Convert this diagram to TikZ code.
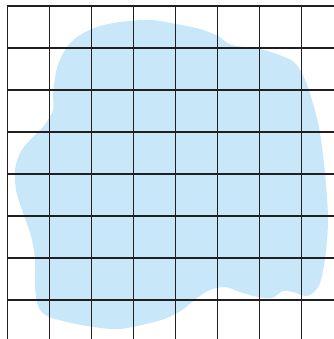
\documentclass[tikz,border=0pt]{standalone}
\usepackage{tikz}

\definecolor{blobblue}{RGB}{200,232,249}
\definecolor{gridink}{RGB}{35,31,32}

\begin{document}
\begin{tikzpicture}[
    x=0.03cm, y=-0.03cm,
    blob/.style={
        fill=blobblue,
        draw=none
    },
    gridline/.style={
        draw=gridink,
        line width=1.4pt,
        line cap=rect
    }
]

\useasboundingbox (0,0) rectangle (333,339);

% region
\fill[blob] plot[smooth cycle, tension=0.55] coordinates {
    (120,22) (150,20) (176,24) (200,29) (218,36) (232,45)
    (260,49) (282,56) (296,64) (306,82) (314,107) (320,133)
    (325,173) (328,220) (325,259) (320,283) (313,293) (305,296)
    (293,292) (283,291) (272,298) (258,297) (240,292) (225,287)
    (210,290) (197,298) (182,310) (167,318) (150,323) (120,329)
    (93,327) (67,322) (47,316) (38,306) (35,286) (35,259)
    (31,236) (22,210) (16,190) (15,170) (20,153) (30,140)
    (43,127) (53,110) (53,93) (57,68) (65,50) (77,37) (97,27)
};

% grid
\foreach \k in {0,...,7} {
    \draw[gridline] (7.5+42*\k,5.7) -- (7.5+42*\k,339);
    \draw[gridline] (7.5,5.7+42*\k) -- (333,5.7+42*\k);
}

\end{tikzpicture}
\end{document}
